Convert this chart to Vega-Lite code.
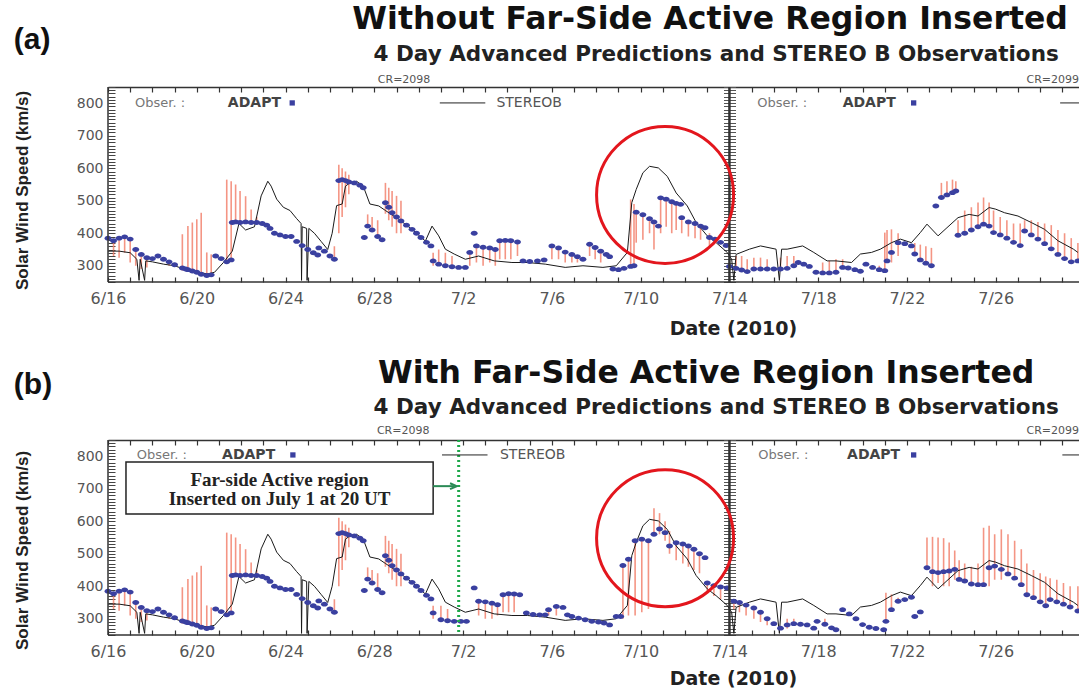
{
"$schema": "https://vega.github.io/schema/vega-lite/v6.json",
"padding": {"left": 12, "top": 4, "right": 0, "bottom": 0},
"background": "white",
"data": {"values": [{}]},
"spacing": 20,
"config": {"view": {"stroke": null}, "axis": {"grid": false}},
"datasets": {
"adapt": [
{"p":"ab","d":0,"v":385},
{"p":"ab","d":0.25,"v":377,"lo":330,"hi":377},
{"p":"ab","d":0.5,"v":385,"lo":325,"hi":385},
{"p":"ab","d":0.75,"v":389,"lo":340,"hi":389},
{"p":"ab","d":1.0,"v":382,"lo":310,"hi":382},
{"p":"ab","d":1.25,"v":350,"lo":300,"hi":350},
{"p":"ab","d":1.5,"v":335,"lo":290,"hi":335},
{"p":"ab","d":1.75,"v":325,"lo":295,"hi":325},
{"p":"ab","d":2.0,"v":322},
{"p":"ab","d":2.25,"v":330},
{"p":"ab","d":2.5,"v":320},
{"p":"ab","d":2.75,"v":312,"lo":300,"hi":312},
{"p":"ab","d":3.0,"v":303},
{"p":"ab","d":3.35,"v":293,"lo":285,"hi":397},
{"p":"ab","d":3.5,"v":290},
{"p":"ab","d":3.6,"v":288,"lo":285,"hi":422},
{"p":"ab","d":3.8,"v":284,"lo":280,"hi":433},
{"p":"ab","d":4.0,"v":280,"lo":278,"hi":443},
{"p":"ab","d":4.2,"v":274,"lo":272,"hi":463},
{"p":"ab","d":4.45,"v":270,"lo":270,"hi":341},
{"p":"ab","d":4.65,"v":272,"lo":272,"hi":335},
{"p":"ab","d":4.85,"v":330},
{"p":"ab","d":5.1,"v":322},
{"p":"ab","d":5.35,"v":312,"lo":312,"hi":565},
{"p":"ab","d":5.55,"v":318,"lo":318,"hi":560},
{"p":"ab","d":5.6,"v":433},
{"p":"ab","d":5.75,"v":435,"lo":433,"hi":550},
{"p":"ab","d":5.95,"v":433,"lo":433,"hi":530},
{"p":"ab","d":6.2,"v":435,"lo":433,"hi":514},
{"p":"ab","d":6.45,"v":433,"lo":433,"hi":473},
{"p":"ab","d":6.7,"v":433,"lo":430,"hi":450},
{"p":"ab","d":6.95,"v":430},
{"p":"ab","d":7.15,"v":425},
{"p":"ab","d":7.3,"v":415},
{"p":"ab","d":7.5,"v":400},
{"p":"ab","d":7.75,"v":395},
{"p":"ab","d":8.0,"v":390},
{"p":"ab","d":8.25,"v":390},
{"p":"ab","d":8.5,"v":375},
{"p":"ab","d":8.75,"v":362},
{"p":"ab","d":9.0,"v":350},
{"p":"ab","d":9.25,"v":340},
{"p":"ab","d":9.45,"v":333},
{"p":"ab","d":9.5,"v":355},
{"p":"ab","d":9.75,"v":345},
{"p":"ab","d":10.0,"v":330},
{"p":"ab","d":10.2,"v":320,"lo":320,"hi":360},
{"p":"ab","d":10.4,"v":562,"lo":400,"hi":611},
{"p":"ab","d":10.55,"v":565,"lo":450,"hi":600},
{"p":"ab","d":10.7,"v":562,"lo":480,"hi":590},
{"p":"ab","d":10.85,"v":558,"lo":520,"hi":580},
{"p":"ab","d":11.1,"v":555},
{"p":"ab","d":11.35,"v":548},
{"p":"ab","d":11.5,"v":540},
{"p":"ab","d":11.55,"v":387},
{"p":"ab","d":11.7,"v":422,"lo":422,"hi":458},
{"p":"ab","d":11.9,"v":410,"lo":410,"hi":450},
{"p":"ab","d":12.15,"v":390,"lo":390,"hi":440},
{"p":"ab","d":12.35,"v":380},
{"p":"ab","d":12.5,"v":494,"lo":460,"hi":555},
{"p":"ab","d":12.65,"v":480,"lo":440,"hi":540},
{"p":"ab","d":12.8,"v":463,"lo":420,"hi":530},
{"p":"ab","d":13.0,"v":450,"lo":400,"hi":515},
{"p":"ab","d":13.2,"v":438,"lo":400,"hi":500},
{"p":"ab","d":13.45,"v":425},
{"p":"ab","d":13.7,"v":412},
{"p":"ab","d":13.9,"v":400},
{"p":"ab","d":14.1,"v":387},
{"p":"ab","d":14.35,"v":372},
{"p":"ab","d":14.55,"v":361},
{"p":"a","d":14.65,"v":315,"lo":300,"hi":340},
{"p":"a","d":14.9,"v":305,"lo":300,"hi":350},
{"p":"a","d":15.2,"v":300,"lo":295,"hi":340},
{"p":"a","d":15.5,"v":297,"lo":297,"hi":330},
{"p":"a","d":15.8,"v":295},
{"p":"a","d":16.1,"v":295},
{"p":"a","d":16.3,"v":341,"lo":300,"hi":341},
{"p":"a","d":16.5,"v":400},
{"p":"a","d":16.6,"v":361,"lo":310,"hi":361},
{"p":"a","d":16.9,"v":357,"lo":300,"hi":357},
{"p":"a","d":17.2,"v":355,"lo":310,"hi":355},
{"p":"a","d":17.45,"v":350,"lo":300,"hi":350},
{"p":"a","d":17.65,"v":377,"lo":320,"hi":377},
{"p":"a","d":17.9,"v":378,"lo":320,"hi":378},
{"p":"a","d":18.15,"v":377,"lo":320,"hi":377},
{"p":"a","d":18.45,"v":373,"lo":330,"hi":373},
{"p":"a","d":18.7,"v":315},
{"p":"a","d":19.0,"v":313},
{"p":"a","d":19.35,"v":315},
{"p":"a","d":19.65,"v":318},
{"p":"a","d":20.0,"v":361,"lo":320,"hi":361},
{"p":"a","d":20.3,"v":355,"lo":320,"hi":355},
{"p":"a","d":20.6,"v":342,"lo":310,"hi":342},
{"p":"a","d":20.9,"v":335,"lo":310,"hi":335},
{"p":"a","d":21.15,"v":328,"lo":310,"hi":328},
{"p":"a","d":21.4,"v":320},
{"p":"a","d":21.7,"v":366,"lo":330,"hi":366},
{"p":"a","d":21.95,"v":356,"lo":320,"hi":356},
{"p":"a","d":22.2,"v":345,"lo":310,"hi":345},
{"p":"a","d":22.45,"v":335},
{"p":"a","d":22.6,"v":328},
{"p":"a","d":22.75,"v":290},
{"p":"a","d":23.0,"v":288},
{"p":"a","d":23.25,"v":292},
{"p":"a","d":23.55,"v":298,"lo":298,"hi":504},
{"p":"a","d":23.7,"v":300,"lo":300,"hi":490},
{"p":"a","d":23.8,"v":465,"lo":371,"hi":465},
{"p":"a","d":24.1,"v":457,"lo":380,"hi":457},
{"p":"a","d":24.4,"v":445,"lo":400,"hi":445},
{"p":"a","d":24.6,"v":435,"lo":350,"hi":435},
{"p":"a","d":24.8,"v":422},
{"p":"a","d":24.9,"v":509,"lo":400,"hi":509},
{"p":"a","d":25.15,"v":505,"lo":420,"hi":505},
{"p":"a","d":25.4,"v":497,"lo":400,"hi":497},
{"p":"a","d":25.6,"v":492,"lo":410,"hi":492},
{"p":"a","d":25.8,"v":489},
{"p":"a","d":25.85,"v":448,"lo":400,"hi":448},
{"p":"a","d":26.15,"v":435,"lo":390,"hi":435},
{"p":"a","d":26.45,"v":430,"lo":385,"hi":430},
{"p":"a","d":26.7,"v":422,"lo":380,"hi":422},
{"p":"a","d":26.9,"v":417},
{"p":"a","d":27.1,"v":387,"lo":360,"hi":400},
{"p":"a","d":27.35,"v":382},
{"p":"a","d":27.6,"v":372},
{"p":"a","d":27.85,"v":362},
{"p":"a","d":28.0,"v":298},
{"p":"a","d":28.3,"v":292,"lo":292,"hi":330},
{"p":"a","d":28.55,"v":287,"lo":287,"hi":330},
{"p":"a","d":28.8,"v":282,"lo":282,"hi":320},
{"p":"a","d":29.1,"v":290,"lo":290,"hi":325},
{"p":"a","d":29.4,"v":290,"lo":290,"hi":325},
{"p":"a","d":29.7,"v":290,"lo":290,"hi":320},
{"p":"a","d":30.0,"v":290},
{"p":"a","d":30.3,"v":290,"lo":290,"hi":325},
{"p":"a","d":30.6,"v":292,"lo":292,"hi":330},
{"p":"a","d":30.9,"v":300,"lo":300,"hi":330},
{"p":"a","d":31.1,"v":310},
{"p":"a","d":31.35,"v":305},
{"p":"a","d":31.6,"v":298},
{"p":"a","d":31.9,"v":280},
{"p":"a","d":32.2,"v":278,"lo":278,"hi":310},
{"p":"a","d":32.5,"v":278,"lo":278,"hi":315},
{"p":"a","d":32.8,"v":280,"lo":280,"hi":320},
{"p":"a","d":33.1,"v":295,"lo":295,"hi":320},
{"p":"a","d":33.35,"v":293},
{"p":"a","d":33.65,"v":288},
{"p":"a","d":33.9,"v":283},
{"p":"a","d":34.15,"v":305},
{"p":"a","d":34.45,"v":295},
{"p":"a","d":34.75,"v":288,"lo":288,"hi":300},
{"p":"a","d":35.0,"v":285,"lo":285,"hi":402},
{"p":"a","d":35.1,"v":315,"lo":315,"hi":410},
{"p":"a","d":35.3,"v":341,"lo":310,"hi":412},
{"p":"a","d":35.6,"v":371,"lo":330,"hi":400},
{"p":"a","d":35.9,"v":368},
{"p":"a","d":36.2,"v":361},
{"p":"a","d":36.35,"v":336,"lo":336,"hi":370},
{"p":"a","d":36.6,"v":318,"lo":318,"hi":365},
{"p":"a","d":36.85,"v":308,"lo":308,"hi":360},
{"p":"a","d":37.1,"v":300,"lo":300,"hi":355},
{"p":"a","d":37.3,"v":484},
{"p":"a","d":37.55,"v":510,"lo":510,"hi":555},
{"p":"a","d":37.8,"v":518,"lo":518,"hi":560},
{"p":"a","d":38.05,"v":525,"lo":525,"hi":565},
{"p":"a","d":38.2,"v":530,"lo":530,"hi":560},
{"p":"a","d":38.3,"v":394,"lo":394,"hi":440},
{"p":"a","d":38.6,"v":400,"lo":400,"hi":470},
{"p":"a","d":38.9,"v":410,"lo":410,"hi":480},
{"p":"a","d":39.2,"v":420,"lo":420,"hi":495},
{"p":"a","d":39.45,"v":428,"lo":428,"hi":510},
{"p":"a","d":39.7,"v":422,"lo":422,"hi":495},
{"p":"a","d":39.9,"v":402,"lo":402,"hi":470},
{"p":"a","d":40.2,"v":395,"lo":395,"hi":450},
{"p":"a","d":40.5,"v":385,"lo":385,"hi":440},
{"p":"a","d":40.8,"v":372,"lo":372,"hi":430},
{"p":"a","d":41.1,"v":362,"lo":362,"hi":430},
{"p":"a","d":41.3,"v":407,"lo":407,"hi":440},
{"p":"a","d":41.6,"v":395,"lo":395,"hi":440},
{"p":"a","d":41.9,"v":382,"lo":382,"hi":435},
{"p":"a","d":42.2,"v":368,"lo":368,"hi":430},
{"p":"a","d":42.5,"v":352,"lo":352,"hi":425},
{"p":"a","d":42.8,"v":335,"lo":335,"hi":410},
{"p":"a","d":43.1,"v":322,"lo":322,"hi":400},
{"p":"a","d":43.4,"v":312,"lo":312,"hi":385},
{"p":"a","d":43.7,"v":315,"lo":315,"hi":370},
{"p":"b","d":14.65,"v":318,"lo":300,"hi":340},
{"p":"b","d":15.0,"v":297,"lo":290,"hi":340},
{"p":"b","d":15.3,"v":294,"lo":290,"hi":330},
{"p":"b","d":15.6,"v":292},
{"p":"b","d":15.9,"v":292},
{"p":"b","d":16.15,"v":292},
{"p":"b","d":16.5,"v":395},
{"p":"b","d":16.7,"v":354,"lo":310,"hi":354},
{"p":"b","d":17.0,"v":352,"lo":300,"hi":352},
{"p":"b","d":17.3,"v":348,"lo":300,"hi":348},
{"p":"b","d":17.55,"v":343,"lo":310,"hi":343},
{"p":"b","d":17.8,"v":374,"lo":320,"hi":374},
{"p":"b","d":18.05,"v":377,"lo":320,"hi":377},
{"p":"b","d":18.3,"v":376,"lo":320,"hi":376},
{"p":"b","d":18.55,"v":374},
{"p":"b","d":18.85,"v":318},
{"p":"b","d":19.15,"v":313},
{"p":"b","d":19.45,"v":312},
{"p":"b","d":19.7,"v":312},
{"p":"b","d":19.85,"v":328,"lo":310,"hi":328},
{"p":"b","d":20.2,"v":338,"lo":310,"hi":338},
{"p":"b","d":20.5,"v":335},
{"p":"b","d":20.7,"v":312},
{"p":"b","d":20.9,"v":307},
{"p":"b","d":21.2,"v":302},
{"p":"b","d":21.5,"v":297},
{"p":"b","d":21.8,"v":292},
{"p":"b","d":22.1,"v":290},
{"p":"b","d":22.35,"v":287},
{"p":"b","d":22.6,"v":281},
{"p":"b","d":22.9,"v":307},
{"p":"b","d":23.1,"v":307},
{"p":"b","d":23.2,"v":464,"lo":300,"hi":464},
{"p":"b","d":23.45,"v":483,"lo":310,"hi":483},
{"p":"b","d":23.75,"v":540,"lo":310,"hi":540},
{"p":"b","d":24.05,"v":545,"lo":320,"hi":545},
{"p":"b","d":24.35,"v":540,"lo":330,"hi":540},
{"p":"b","d":24.6,"v":560,"lo":560,"hi":640},
{"p":"b","d":24.85,"v":576,"lo":560,"hi":625},
{"p":"b","d":25.1,"v":565,"lo":540,"hi":600},
{"p":"b","d":25.3,"v":524,"lo":500,"hi":570},
{"p":"b","d":25.6,"v":534,"lo":480,"hi":534},
{"p":"b","d":25.9,"v":530,"lo":470,"hi":530},
{"p":"b","d":26.15,"v":524,"lo":460,"hi":524},
{"p":"b","d":26.4,"v":514,"lo":450,"hi":514},
{"p":"b","d":26.65,"v":500,"lo":440,"hi":500},
{"p":"b","d":26.9,"v":488},
{"p":"b","d":27.0,"v":410,"lo":380,"hi":410},
{"p":"b","d":27.3,"v":402,"lo":370,"hi":402},
{"p":"b","d":27.6,"v":398,"lo":360,"hi":398},
{"p":"b","d":27.9,"v":395},
{"p":"b","d":28.2,"v":354,"lo":330,"hi":354},
{"p":"b","d":28.45,"v":350,"lo":320,"hi":350},
{"p":"b","d":28.75,"v":342,"lo":310,"hi":342},
{"p":"b","d":29.1,"v":333,"lo":300,"hi":333},
{"p":"b","d":29.4,"v":320,"lo":290,"hi":320},
{"p":"b","d":29.7,"v":300,"lo":280,"hi":300},
{"p":"b","d":30.0,"v":285},
{"p":"b","d":30.3,"v":271},
{"p":"b","d":30.6,"v":281,"lo":270,"hi":300},
{"p":"b","d":30.9,"v":285,"lo":280,"hi":300},
{"p":"b","d":31.2,"v":283},
{"p":"b","d":31.5,"v":281},
{"p":"b","d":31.8,"v":271},
{"p":"b","d":31.95,"v":292},
{"p":"b","d":32.3,"v":283,"lo":283,"hi":300},
{"p":"b","d":32.6,"v":272},
{"p":"b","d":32.8,"v":266},
{"p":"b","d":33.1,"v":328},
{"p":"b","d":33.4,"v":315},
{"p":"b","d":33.7,"v":300},
{"p":"b","d":34.0,"v":282},
{"p":"b","d":34.3,"v":274},
{"p":"b","d":34.6,"v":270},
{"p":"b","d":34.95,"v":266},
{"p":"b","d":35.05,"v":292,"lo":292,"hi":380},
{"p":"b","d":35.3,"v":328,"lo":328,"hi":375},
{"p":"b","d":35.6,"v":354,"lo":354,"hi":365},
{"p":"b","d":35.9,"v":359},
{"p":"b","d":36.2,"v":366},
{"p":"b","d":36.35,"v":307},
{"p":"b","d":36.6,"v":321},
{"p":"b","d":36.9,"v":457,"lo":457,"hi":550},
{"p":"b","d":37.15,"v":445,"lo":400,"hi":552},
{"p":"b","d":37.4,"v":442,"lo":410,"hi":550},
{"p":"b","d":37.65,"v":445,"lo":400,"hi":548},
{"p":"b","d":37.9,"v":447,"lo":400,"hi":535},
{"p":"b","d":38.15,"v":452,"lo":420,"hi":510},
{"p":"b","d":38.35,"v":421,"lo":421,"hi":480},
{"p":"b","d":38.6,"v":416,"lo":416,"hi":470},
{"p":"b","d":38.9,"v":407,"lo":407,"hi":460},
{"p":"b","d":39.2,"v":405,"lo":405,"hi":470},
{"p":"b","d":39.45,"v":405,"lo":405,"hi":580},
{"p":"b","d":39.7,"v":457,"lo":400,"hi":586},
{"p":"b","d":39.95,"v":462,"lo":420,"hi":560},
{"p":"b","d":40.25,"v":452,"lo":420,"hi":575},
{"p":"b","d":40.55,"v":438,"lo":438,"hi":560},
{"p":"b","d":40.85,"v":425,"lo":425,"hi":540},
{"p":"b","d":41.15,"v":405,"lo":405,"hi":514},
{"p":"b","d":41.4,"v":374,"lo":374,"hi":470},
{"p":"b","d":41.7,"v":365,"lo":365,"hi":450},
{"p":"b","d":42.0,"v":352,"lo":352,"hi":440},
{"p":"b","d":42.25,"v":340,"lo":340,"hi":430},
{"p":"b","d":42.45,"v":359,"lo":359,"hi":425},
{"p":"b","d":42.75,"v":352,"lo":352,"hi":420},
{"p":"b","d":43.05,"v":345,"lo":345,"hi":410},
{"p":"b","d":43.35,"v":336,"lo":336,"hi":400},
{"p":"b","d":43.7,"v":324,"lo":324,"hi":400}
],
"stereo": [
{"d":0,"v":345},{"d":0.5,"v":345},{"d":1.0,"v":340},{"d":1.3,"v":320},{"d":1.4,"v":255},{"d":1.45,"v":320},{"d":1.65,"v":255},{"d":1.7,"v":315},{"d":2.0,"v":312},{"d":2.5,"v":305},{"d":3.0,"v":300},{"d":3.5,"v":288},{"d":4.0,"v":280},{"d":4.5,"v":275},{"d":4.8,"v":280},{"d":5.2,"v":310},{"d":5.6,"v":345},{"d":5.9,"v":430},{"d":6.2,"v":410},{"d":6.6,"v":420},{"d":6.9,"v":515},{"d":7.2,"v":560},{"d":7.35,"v":545},{"d":7.6,"v":505},{"d":7.9,"v":480},{"d":8.2,"v":470},{"d":8.5,"v":445},{"d":8.7,"v":430},{"d":8.72,"v":255},{"d":8.75,"v":420},{"d":8.95,"v":415},{"d":8.97,"v":255},{"d":9.05,"v":415},{"d":9.3,"v":400},{"d":9.6,"v":375},{"d":9.9,"v":350},{"d":10.1,"v":400},{"d":10.3,"v":485},{"d":10.55,"v":490},{"d":10.7,"v":545},{"d":10.9,"v":555},{"d":11.2,"v":560},{"d":11.5,"v":545},{"d":11.8,"v":490},{"d":12.2,"v":484},{"d":12.5,"v":470},{"d":13.1,"v":443},{"d":13.7,"v":412},{"d":14.3,"v":376},{"d":14.6,"v":422},{"d":14.9,"v":392},{"d":15.2,"v":351},{"d":15.6,"v":336},{"d":16.1,"v":320},{"d":16.7,"v":330},{"d":17.4,"v":315},{"d":18.2,"v":310},{"d":18.9,"v":310},{"d":19.7,"v":305},{"d":20.6,"v":295},{"d":21.4,"v":300},{"d":22.3,"v":295},{"d":22.9,"v":300},{"d":23.4,"v":341},{"d":23.6,"v":494},{"d":23.8,"v":535},{"d":24.1,"v":586},{"d":24.4,"v":606},{"d":24.8,"v":601},{"d":25.2,"v":575},{"d":25.6,"v":524},{"d":26.1,"v":484},{"d":26.5,"v":433},{"d":27.0,"v":392},{"d":27.4,"v":371},{"d":27.9,"v":341},{"d":28.1,"v":320},{"d":28.2,"v":255},{"d":28.3,"v":335},{"d":28.9,"v":351},{"d":29.4,"v":361},{"d":30.1,"v":351},{"d":30.25,"v":255},{"d":30.35,"v":351},{"d":30.6,"v":351},{"d":31.3,"v":361},{"d":31.8,"v":341},{"d":32.4,"v":315},{"d":32.8,"v":315},{"d":33.5,"v":310},{"d":33.9,"v":336},{"d":34.4,"v":341},{"d":34.8,"v":351},{"d":35.3,"v":371},{"d":35.7,"v":382},{"d":36.2,"v":371},{"d":36.6,"v":402},{"d":36.9,"v":428},{"d":37.4,"v":392},{"d":37.8,"v":417},{"d":38.3,"v":448},{"d":38.8,"v":458},{"d":39.2,"v":453},{"d":39.7,"v":479},{"d":40.0,"v":474},{"d":40.4,"v":463},{"d":41.0,"v":453},{"d":41.6,"v":433},{"d":42.2,"v":412},{"d":42.8,"v":377},{"d":43.5,"v":351},{"d":43.7,"v":341}
]
},
"vconcat": [
{
"width": 971, "height": 195,
"resolve": {"axis": {"x": "independent", "y": "independent"}},
"layer": [
{"data": {"name": "adapt"}, "transform": [{"filter": "datum.p != 'b' && isValid(datum.lo)"}],
 "mark": {"type": "rule", "color": "#f2836f", "strokeWidth": 1.6, "opacity": 0.85},
 "encoding": {
  "x": {"field": "d", "type": "quantitative", "scale": {"domain": [0, 43.75], "nice": false, "zero": false},
   "axis": {"orient": "bottom", "offset": -5, "tickCount": 44, "labelExpr": "datum.value % 4 == 0 ? timeFormat(datetime(2010, 5, 16 + datum.value), '%-m/%-d') : ''", "labelOverlap": false, "labelFlush": false, "labelBound": false, "tickSize": 5, "tickWidth": 1.2, "tickColor": "#333", "domain": false, "labelPadding": 8, "labelFont": "DejaVu Sans", "labelFontSize": 16, "labelColor": "#555", "title": "Date (2010)", "titleFont": "DejaVu Sans", "titleFontSize": 19, "titleFontWeight": "bold", "titleColor": "#222", "titleX": 625, "titleY": 51, "titleAlign": "center", "titleBaseline": "middle"}},
  "y": {"field": "lo", "type": "quantitative", "scale": {"domain": [250, 850], "nice": false, "zero": false},
   "axis": {"orient": "left", "offset": -7, "tickCount": 60, "labelExpr": "datum.value % 100 == 0 ? datum.label : ''", "labelOverlap": false, "labelBound": false, "labelFlush": false, "tickSize": 7, "tickWidth": 1, "tickColor": "#444", "domain": false, "labelPadding": 5, "labelFont": "DejaVu Sans", "labelFontSize": 14, "labelColor": "#555", "title": "Solar Wind Speed (km/s)", "titleFont": "Liberation Sans", "titleFontSize": 17, "titleFontWeight": "bold", "titleColor": "#222", "titleAngle": -90, "titleX": -93, "titleY": 103, "titleAlign": "center", "titleBaseline": "middle"}},
  "y2": {"field": "hi"}}},
{"data": {"name": "stereo"},
 "mark": {"type": "line", "color": "#1a1a1a", "strokeWidth": 1},
 "encoding": {
  "x": {"field": "d", "type": "quantitative", "axis": {"orient": "bottom", "offset": -195, "tickCount": 44, "labels": false, "tickSize": 5, "tickWidth": 1.2, "tickColor": "#333", "domainColor": "#333", "domainWidth": 1.5, "title": null}},
  "y": {"field": "v", "type": "quantitative", "axis": {"orient": "right", "offset": -355.5, "tickCount": 60, "labels": false, "tickSize": 12, "tickColor": "#555", "domain": false, "title": null}}}},
{"data": {"name": "adapt"}, "transform": [{"filter": "datum.p != 'b'"}],
 "mark": {"type": "point", "shape": "M-1.4,0A1.4,1,0,1,0,1.4,0A1.4,1,0,1,0,-1.4,0Z", "filled": true, "size": 24, "color": "#3a40a0", "opacity": 1},
 "encoding": {
  "x": {"field": "d", "type": "quantitative", "axis": null},
  "y": {"field": "v", "type": "quantitative", "axis": null}}},
{"mark": {"type": "rule", "color": "#333", "strokeWidth": 1.5}, "encoding": {"x": {"datum": 0, "axis": null}}},
{"mark": {"type": "rule", "color": "#333", "strokeWidth": 1.5}, "encoding": {"y": {"datum": 250, "axis": null}}},
{"mark": {"type": "rule", "color": "#333", "strokeWidth": 2.5}, "encoding": {"x": {"datum": 28, "axis": null}}},
{"mark": {"type": "point", "shape": "circle", "filled": false, "size": 18769, "stroke": "#e3161d", "strokeWidth": 3, "opacity": 1}, "encoding": {"x": {"datum": 25.1, "axis": null}, "y": {"datum": 518, "axis": null}}},
{"mark": {"type": "text", "text": "(a)", "font": "Liberation Sans", "fontSize": 30, "fontWeight": "bold", "color": "#111", "align": "center", "baseline": "middle"}, "encoding": {"x": {"datum": -3.42, "axis": null}, "y": {"datum": 995, "axis": null}}},
{"mark": {"type": "text", "text": "Without Far-Side Active Region Inserted", "font": "DejaVu Sans", "fontSize": 31.5, "fontWeight": "bold", "color": "#111", "align": "center", "baseline": "middle"}, "encoding": {"x": {"datum": 27.13, "axis": null}, "y": {"datum": 1056, "axis": null}}},
{"mark": {"type": "text", "text": "4 Day Advanced Predictions and STEREO B Observations", "font": "DejaVu Sans", "fontSize": 21.5, "fontWeight": "bold", "color": "#222", "align": "center", "baseline": "middle"}, "encoding": {"x": {"datum": 27.4, "axis": null}, "y": {"datum": 948, "axis": null}}},
{"mark": {"type": "text", "text": "CR=2098", "font": "DejaVu Sans", "fontSize": 11, "color": "#555", "align": "center", "baseline": "middle"}, "encoding": {"x": {"datum": 13.34, "axis": null}, "y": {"datum": 871, "axis": null}}},
{"mark": {"type": "text", "text": "CR=2099", "font": "DejaVu Sans", "fontSize": 11, "color": "#555", "align": "right", "baseline": "middle"}, "encoding": {"x": {"datum": 43.75, "axis": null}, "y": {"datum": 871, "axis": null}}},
{"mark": {"type": "text", "text": "Obser. :", "font": "DejaVu Sans", "fontSize": 13, "color": "#777", "align": "left", "baseline": "middle"}, "encoding": {"x": {"datum": 1.22, "axis": null}, "y": {"datum": 801, "axis": null}}},
{"mark": {"type": "text", "text": "Obser. :", "font": "DejaVu Sans", "fontSize": 13, "color": "#777", "align": "left", "baseline": "middle"}, "encoding": {"x": {"datum": 29.25, "axis": null}, "y": {"datum": 801, "axis": null}}},
{"mark": {"type": "text", "text": "ADAPT", "font": "DejaVu Sans", "fontSize": 14, "fontWeight": "bold", "color": "#444", "align": "left", "baseline": "middle"}, "encoding": {"x": {"datum": 5.4, "axis": null}, "y": {"datum": 801, "axis": null}}},
{"mark": {"type": "text", "text": "ADAPT", "font": "DejaVu Sans", "fontSize": 14, "fontWeight": "bold", "color": "#444", "align": "left", "baseline": "middle"}, "encoding": {"x": {"datum": 33.1, "axis": null}, "y": {"datum": 801, "axis": null}}},
{"mark": {"type": "point", "shape": "square", "filled": true, "size": 28, "color": "#3a40a0", "opacity": 1}, "encoding": {"x": {"datum": 8.3, "axis": null}, "y": {"datum": 801, "axis": null}}},
{"mark": {"type": "point", "shape": "square", "filled": true, "size": 28, "color": "#3a40a0", "opacity": 1}, "encoding": {"x": {"datum": 36.3, "axis": null}, "y": {"datum": 801, "axis": null}}},
{"mark": {"type": "rule", "color": "#222", "strokeWidth": 1}, "encoding": {"x": {"datum": 14.95, "axis": null}, "x2": {"datum": 17.0}, "y": {"datum": 801, "axis": null}}},
{"mark": {"type": "rule", "color": "#222", "strokeWidth": 1}, "encoding": {"x": {"datum": 42.9, "axis": null}, "x2": {"datum": 43.75}, "y": {"datum": 801, "axis": null}}},
{"mark": {"type": "text", "text": "STEREOB", "font": "DejaVu Sans", "fontSize": 14, "color": "#555", "align": "left", "baseline": "middle"}, "encoding": {"x": {"datum": 17.5, "axis": null}, "y": {"datum": 801, "axis": null}}}
]
},
{
"width": 971, "height": 195,
"resolve": {"axis": {"x": "independent", "y": "independent"}},
"layer": [
{"data": {"name": "adapt"}, "transform": [{"filter": "datum.p != 'a' && isValid(datum.lo)"}],
 "mark": {"type": "rule", "color": "#f2836f", "strokeWidth": 1.6, "opacity": 0.85},
 "encoding": {
  "x": {"field": "d", "type": "quantitative", "scale": {"domain": [0, 43.75], "nice": false, "zero": false},
   "axis": {"orient": "bottom", "offset": -5, "tickCount": 44, "labelExpr": "datum.value % 4 == 0 ? timeFormat(datetime(2010, 5, 16 + datum.value), '%-m/%-d') : ''", "labelOverlap": false, "labelFlush": false, "labelBound": false, "tickSize": 5, "tickWidth": 1.2, "tickColor": "#333", "domain": false, "labelPadding": 8, "labelFont": "DejaVu Sans", "labelFontSize": 16, "labelColor": "#555", "title": "Date (2010)", "titleFont": "DejaVu Sans", "titleFontSize": 19, "titleFontWeight": "bold", "titleColor": "#222", "titleX": 625, "titleY": 48, "titleAlign": "center", "titleBaseline": "middle"}},
  "y": {"field": "lo", "type": "quantitative", "scale": {"domain": [250, 850], "nice": false, "zero": false},
   "axis": {"orient": "left", "offset": -7, "tickCount": 60, "labelExpr": "datum.value % 100 == 0 ? datum.label : ''", "labelOverlap": false, "labelBound": false, "labelFlush": false, "tickSize": 7, "tickWidth": 1, "tickColor": "#444", "domain": false, "labelPadding": 5, "labelFont": "DejaVu Sans", "labelFontSize": 14, "labelColor": "#555", "title": "Solar Wind Speed (km/s)", "titleFont": "Liberation Sans", "titleFontSize": 17, "titleFontWeight": "bold", "titleColor": "#222", "titleAngle": -90, "titleX": -93, "titleY": 110, "titleAlign": "center", "titleBaseline": "middle"}},
  "y2": {"field": "hi"}}},
{"data": {"name": "stereo"},
 "mark": {"type": "line", "color": "#1a1a1a", "strokeWidth": 1},
 "encoding": {
  "x": {"field": "d", "type": "quantitative", "axis": {"orient": "bottom", "offset": -195, "tickCount": 44, "labels": false, "tickSize": 5, "tickWidth": 1.2, "tickColor": "#333", "domainColor": "#333", "domainWidth": 1.5, "title": null}},
  "y": {"field": "v", "type": "quantitative", "axis": {"orient": "right", "offset": -355.5, "tickCount": 60, "labels": false, "tickSize": 12, "tickColor": "#555", "domain": false, "title": null}}}},
{"data": {"name": "adapt"}, "transform": [{"filter": "datum.p != 'a'"}],
 "mark": {"type": "point", "shape": "M-1.4,0A1.4,1,0,1,0,1.4,0A1.4,1,0,1,0,-1.4,0Z", "filled": true, "size": 24, "color": "#3a40a0", "opacity": 1},
 "encoding": {
  "x": {"field": "d", "type": "quantitative", "axis": null},
  "y": {"field": "v", "type": "quantitative", "axis": null}}},
{"mark": {"type": "rule", "color": "#333", "strokeWidth": 1.5}, "encoding": {"x": {"datum": 0, "axis": null}}},
{"mark": {"type": "rule", "color": "#333", "strokeWidth": 1.5}, "encoding": {"y": {"datum": 250, "axis": null}}},
{"mark": {"type": "rule", "color": "#333", "strokeWidth": 2.5}, "encoding": {"x": {"datum": 28, "axis": null}}},
{"mark": {"type": "rule", "color": "#1ea84a", "strokeWidth": 3, "strokeDash": [2, 3]}, "encoding": {"x": {"datum": 15.8, "axis": null}}},
{"mark": {"type": "rect", "fill": "#ffffff", "stroke": "#222", "strokeWidth": 1.5}, "encoding": {"x": {"datum": 0.81, "axis": null}, "x2": {"datum": 14.65}, "y": {"datum": 782, "axis": null}, "y2": {"datum": 622}}},
{"mark": {"type": "text", "text": "Far-side Active region", "font": "Liberation Serif", "fontSize": 19, "fontWeight": "bold", "color": "#222", "align": "center", "baseline": "middle"}, "encoding": {"x": {"datum": 7.73, "axis": null}, "y": {"datum": 727, "axis": null}}},
{"mark": {"type": "text", "text": "Inserted on July 1 at 20 UT", "font": "Liberation Serif", "fontSize": 19, "fontWeight": "bold", "color": "#222", "align": "center", "baseline": "middle"}, "encoding": {"x": {"datum": 7.73, "axis": null}, "y": {"datum": 668, "axis": null}}},
{"mark": {"type": "rule", "color": "#2a8a55", "strokeWidth": 2}, "encoding": {"x": {"datum": 14.65, "axis": null}, "x2": {"datum": 15.6}, "y": {"datum": 708, "axis": null}}},
{"mark": {"type": "point", "shape": "M-1,-0.7L0.6,0L-1,0.7", "filled": false, "size": 70, "stroke": "#2a8a55", "strokeWidth": 2, "opacity": 1}, "encoding": {"x": {"datum": 15.6, "axis": null}, "y": {"datum": 708, "axis": null}}},
{"mark": {"type": "point", "shape": "circle", "filled": false, "size": 18769, "stroke": "#e3161d", "strokeWidth": 3, "opacity": 1}, "encoding": {"x": {"datum": 25.1, "axis": null}, "y": {"datum": 548, "axis": null}}},
{"mark": {"type": "text", "text": "(b)", "font": "Liberation Sans", "fontSize": 30, "fontWeight": "bold", "color": "#111", "align": "center", "baseline": "middle"}, "encoding": {"x": {"datum": -3.38, "axis": null}, "y": {"datum": 1019, "axis": null}}},
{"mark": {"type": "text", "text": "With Far-Side Active Region Inserted", "font": "DejaVu Sans", "fontSize": 31.5, "fontWeight": "bold", "color": "#111", "align": "center", "baseline": "middle"}, "encoding": {"x": {"datum": 26.95, "axis": null}, "y": {"datum": 1053, "axis": null}}},
{"mark": {"type": "text", "text": "4 Day Advanced Predictions and STEREO B Observations", "font": "DejaVu Sans", "fontSize": 21.5, "fontWeight": "bold", "color": "#222", "align": "center", "baseline": "middle"}, "encoding": {"x": {"datum": 27.4, "axis": null}, "y": {"datum": 948, "axis": null}}},
{"mark": {"type": "text", "text": "CR=2098", "font": "DejaVu Sans", "fontSize": 11, "color": "#555", "align": "center", "baseline": "middle"}, "encoding": {"x": {"datum": 13.3, "axis": null}, "y": {"datum": 877, "axis": null}}},
{"mark": {"type": "text", "text": "CR=2099", "font": "DejaVu Sans", "fontSize": 11, "color": "#555", "align": "right", "baseline": "middle"}, "encoding": {"x": {"datum": 43.75, "axis": null}, "y": {"datum": 877, "axis": null}}},
{"mark": {"type": "text", "text": "Obser. :", "font": "DejaVu Sans", "fontSize": 13, "color": "#777", "align": "left", "baseline": "middle"}, "encoding": {"x": {"datum": 1.3, "axis": null}, "y": {"datum": 804, "axis": null}}},
{"mark": {"type": "text", "text": "Obser. :", "font": "DejaVu Sans", "fontSize": 13, "color": "#777", "align": "left", "baseline": "middle"}, "encoding": {"x": {"datum": 29.3, "axis": null}, "y": {"datum": 804, "axis": null}}},
{"mark": {"type": "text", "text": "ADAPT", "font": "DejaVu Sans", "fontSize": 14, "fontWeight": "bold", "color": "#444", "align": "left", "baseline": "middle"}, "encoding": {"x": {"datum": 5.14, "axis": null}, "y": {"datum": 804, "axis": null}}},
{"mark": {"type": "text", "text": "ADAPT", "font": "DejaVu Sans", "fontSize": 14, "fontWeight": "bold", "color": "#444", "align": "left", "baseline": "middle"}, "encoding": {"x": {"datum": 33.3, "axis": null}, "y": {"datum": 804, "axis": null}}},
{"mark": {"type": "point", "shape": "square", "filled": true, "size": 28, "color": "#3a40a0", "opacity": 1}, "encoding": {"x": {"datum": 8.33, "axis": null}, "y": {"datum": 804, "axis": null}}},
{"mark": {"type": "point", "shape": "square", "filled": true, "size": 28, "color": "#3a40a0", "opacity": 1}, "encoding": {"x": {"datum": 36.3, "axis": null}, "y": {"datum": 804, "axis": null}}},
{"mark": {"type": "rule", "color": "#222", "strokeWidth": 1}, "encoding": {"x": {"datum": 15.05, "axis": null}, "x2": {"datum": 17.1}, "y": {"datum": 804, "axis": null}}},
{"mark": {"type": "rule", "color": "#222", "strokeWidth": 1}, "encoding": {"x": {"datum": 43.0, "axis": null}, "x2": {"datum": 43.75}, "y": {"datum": 804, "axis": null}}},
{"mark": {"type": "text", "text": "STEREOB", "font": "DejaVu Sans", "fontSize": 14, "color": "#555", "align": "left", "baseline": "middle"}, "encoding": {"x": {"datum": 17.66, "axis": null}, "y": {"datum": 804, "axis": null}}}
]
}
]
}
